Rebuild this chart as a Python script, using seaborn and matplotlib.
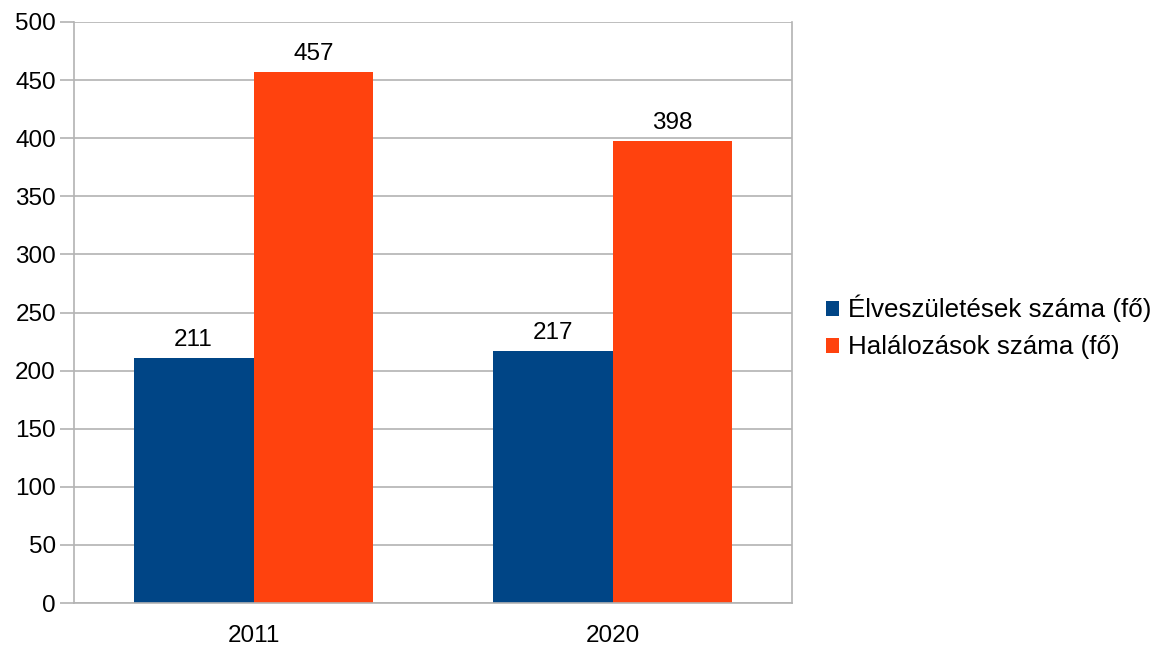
import numpy as np
import pandas as pd
import matplotlib.pyplot as plt
import seaborn as sns

# adatok
evek = ["2011", "2020"]
sorozatok = ["Élveszületések száma (fő)", "Halálozások száma (fő)"]
szuletesek = [211, 217]
halalozasok = [457, 398]
szinek = ["#004586", "#ff420e"]

df = pd.DataFrame({
    "ev": evek * 2,
    "sorozat": [sorozatok[0]] * 2 + [sorozatok[1]] * 2,
    "ertek": szuletesek + halalozasok,
})

sns.set_style("white")
plt.rcParams["font.family"] = ["Liberation Sans", "DejaVu Sans"]
plt.rcParams["text.color"] = "black"
plt.rcParams["xtick.labelcolor"] = "black"
plt.rcParams["ytick.labelcolor"] = "black"

fig = plt.figure(figsize=(11.7, 6.48), dpi=100)
ax = fig.add_axes([74 / 1170, 45 / 648, 718 / 1170, 581 / 648])

sns.barplot(data=df, x="ev", y="ertek", hue="sorozat", palette=szinek,
            width=0.668, saturation=1, linewidth=0, ax=ax, legend=True)

for c in ax.containers:
    ax.bar_label(c, fontsize=17.5, padding=5, color="black")

ax.set_ylim(0, 500)
ax.set_xlim(-0.5, 1.5)
ax.set_yticks(np.arange(0, 501, 50))
ax.yaxis.grid(True, color="#b3b3b3", linewidth=1.2)
ax.set_axisbelow(True)
ax.set_xlabel("")
ax.set_ylabel("")

ax.set_xticks([-0.5, 0.5, 1.5], minor=True)
ax.tick_params(axis="x", which="minor", length=10, color="#b3b3b3", width=1.2, direction="out")
ax.tick_params(axis="x", which="major", length=0, labelsize=17.5, pad=16)
ax.tick_params(axis="y", length=10, color="#b3b3b3", width=1.2, labelsize=17.5, pad=3, left=True)

for s in ["left", "bottom", "right"]:
    ax.spines[s].set_color("#b3b3b3")
    ax.spines[s].set_linewidth(1.2)
ax.spines["top"].set_visible(False)

h, l = ax.get_legend_handles_labels()
ax.get_legend().remove()
fig.legend(h, l, loc="center left", bbox_to_anchor=(0.686, 0.495), frameon=False,
           fontsize=18.7, handlelength=0.5, handleheight=0.5, handletextpad=0.35,
           labelspacing=0.5)

fig.savefig("out.png", dpi=100)
